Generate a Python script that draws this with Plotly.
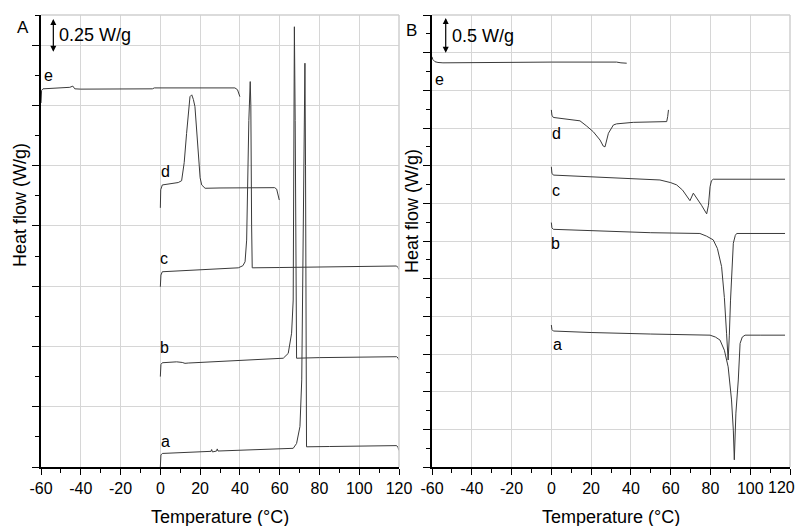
import plotly.graph_objects as go

# temperature ticks shared by both panels
temp_ticks = [-60, -40, -20, 0, 20, 40, 60, 80, 100, 120]
temp_text = [str(t) for t in temp_ticks]

# panel A (heating), curves offset vertically, arbitrary units (1.14 unit = 0.25 W/g)
a_e_T = [-60, -59.7, -59, -50, -45.5, -44, -43, -40, -20, -4, -3, 10, 30, 37.5, 38.8, 39.5, 40]
a_e_y = [12.08, 12.5, 12.55, 12.57, 12.6, 12.64, 12.55, 12.54, 12.54, 12.55, 12.58, 12.58, 12.59, 12.58, 12.52, 12.4, 12.29]

a_d_T = [0, 0.2, 1, 5, 9, 10.7, 12, 13.2, 14.2, 14.9, 15.8, 16.6, 17.4, 18.2, 19.1, 20, 20.8, 22.5, 30, 45, 57.5, 58.5, 59.3, 59.8]
a_d_y = [8.6, 9.2, 9.36, 9.4, 9.44, 9.5, 10.1, 11.07, 11.9, 12.29, 12.35, 12.2, 11.96, 11.2, 10.19, 9.6, 9.36, 9.25, 9.26, 9.27, 9.27, 9.22, 9.05, 8.86]

a_c_T = [0, 0.3, 1, 20, 39.2, 41.5, 42.6, 43.4, 43.7, 44.5, 45.2, 45.5, 45.9, 46.2, 60, 100, 118.8, 119.5, 120]
a_c_y = [5.98, 6.37, 6.48, 6.55, 6.61, 6.68, 6.81, 7.53, 8.86, 11.5, 12.79, 12.0, 8.0, 6.61, 6.62, 6.66, 6.67, 6.62, 6.55]

a_b_T = [0, 0.3, 1, 8.2, 11, 12.4, 14, 40, 61.8, 64.3, 66, 66.8, 67.1, 67.4, 67.8, 68.2, 68.5, 80, 118.8, 119.5, 120]
a_b_y = [3.0, 3.4, 3.46, 3.49, 3.47, 3.44, 3.45, 3.53, 3.61, 3.77, 4.44, 5.54, 8.86, 14.61, 11.5, 8.0, 3.61, 3.63, 3.66, 3.62, 3.55]

a_a_T = [0, 0.3, 1, 10, 20, 25.5, 25.8, 26.2, 28.3, 28.6, 29, 40, 55, 66.8, 68.5, 70.2, 71.1, 72, 72.7, 73.0, 73.2, 73.5, 85, 100, 118.8, 119.5, 120]
a_a_y = [0.0, 0.4, 0.45, 0.48, 0.5, 0.52, 0.58, 0.5, 0.53, 0.6, 0.53, 0.56, 0.59, 0.62, 0.78, 1.34, 2.89, 8.0, 13.4, 10.0, 5.0, 0.67, 0.68, 0.7, 0.71, 0.65, 0.55]

# panel B (cooling), ~0.96 unit = 0.5 W/g
b_e_T = [-60, -59.6, -58.5, -57, -54.5, -40, -20, 0, 20, 32.8, 35, 37.9]
b_e_y = [10.89, 10.82, 10.76, 10.74, 10.73, 10.74, 10.75, 10.75, 10.75, 10.75, 10.73, 10.72]

b_d_T = [0, 0.3, 1, 8, 14.4, 17.8, 21.1, 24.5, 26.1, 27, 28.7, 31.2, 32.8, 41.2, 50, 58, 58.5, 58.9]
b_d_y = [9.48, 9.34, 9.28, 9.23, 9.19, 9.05, 8.90, 8.68, 8.52, 8.50, 8.86, 9.08, 9.11, 9.15, 9.16, 9.17, 9.3, 9.48]

b_c_T = [0, 0.3, 1, 20, 40, 54.6, 60, 63, 66, 69.7, 71.4, 73, 75.5, 78.1, 79, 79.8, 80.5, 81.4, 90, 117.5]
b_c_y = [7.97, 7.8, 7.75, 7.7, 7.66, 7.62, 7.55, 7.49, 7.35, 7.07, 7.27, 7.15, 6.95, 6.72, 6.95, 7.44, 7.6, 7.64, 7.64, 7.64]

b_b_T = [0, 0.3, 1, 20, 50, 74.7, 78, 81.4, 83.5, 85.6, 87, 88.1, 88.9, 89.5, 90.1, 91.5, 92.5, 93.2, 100, 117.5]
b_b_y = [6.49, 6.35, 6.31, 6.27, 6.22, 6.20, 6.13, 6.03, 5.8, 5.32, 4.5, 3.55, 2.84, 3.5, 4.43, 5.94, 6.15, 6.20, 6.20, 6.20]

b_a_T = [0, 0.3, 1, 20, 50, 79.8, 82.5, 84.8, 87, 88.9, 90.6, 91.5, 92.0, 92.4, 92.8, 94, 94.9, 96, 97.4, 105, 117.5]
b_a_y = [3.77, 3.65, 3.61, 3.57, 3.53, 3.50, 3.45, 3.37, 3.1, 2.66, 1.78, 0.98, 0.19, 0.8, 1.43, 2.31, 3.28, 3.45, 3.50, 3.50, 3.50]

curve_names = ['a', 'b', 'c', 'd', 'e']
panel_a = {'a': (a_a_T, a_a_y), 'b': (a_b_T, a_b_y), 'c': (a_c_T, a_c_y),
           'd': (a_d_T, a_d_y), 'e': (a_e_T, a_e_y)}
panel_b = {'a': (b_a_T, b_a_y), 'b': (b_b_T, b_b_y), 'c': (b_c_T, b_c_y),
           'd': (b_d_T, b_d_y), 'e': (b_e_T, b_e_y)}

# label positions (T, y) for curve letters
labels_a = {'a': (2.7, 0.86), 'b': (2.0, 3.97), 'c': (2.0, 6.93), 'd': (2.7, 9.8), 'e': (-56.3, 12.98)}
labels_b = {'a': (3.0, 3.24), 'b': (2.2, 5.94), 'c': (2.2, 7.35), 'd': (2.7, 8.86), 'e': (-56.0, 10.29)}

FONT = "Liberation Sans, Arial, sans-serif"
LINE = '#3a3a3a'
OFF = 8                      # page body margin, the figure sits 8px in
W, H = 804 - OFF, 526 - OFF  # keep the figure inside the window
PLOT_TOP, PLOT_BOT = 15, 467  # wanted page pixels of the plot area
M_T = PLOT_TOP - OFF
M_B = H - (PLOT_BOT - OFF)


def paper_xy(px, py):
    """page pixel position -> paper coords (plot area = between margins)"""
    return (px - OFF) / W, (PLOT_BOT - py) / (PLOT_BOT - PLOT_TOP)


def dom(p0, p1):
    return [(p0 - OFF) / W, (p1 - OFF) / W]


fig = go.Figure()

for name in curve_names:
    T, y = panel_a[name]
    fig.add_trace(go.Scatter(x=T, y=y, mode='lines', line=dict(color=LINE, width=1),
                             xaxis='x', yaxis='y', showlegend=False))
    T, y = panel_b[name]
    fig.add_trace(go.Scatter(x=T, y=y, mode='lines', line=dict(color=LINE, width=1),
                             xaxis='x2', yaxis='y2', showlegend=False))

annotations = []
for name in curve_names:
    tx, ty = labels_a[name]
    annotations.append(dict(x=tx, y=ty, xref='x', yref='y', text=name, showarrow=False,
                            xanchor='center', yanchor='middle', font=dict(size=16, color='black')))
    tx, ty = labels_b[name]
    annotations.append(dict(x=tx, y=ty, xref='x2', yref='y2', text=name, showarrow=False,
                            xanchor='center', yanchor='middle', font=dict(size=16, color='black')))

# scale bars
annotations.append(dict(x=-53.8, y=14.87, ax=-53.8, ay=13.73, xref='x', yref='y', axref='x', ayref='y',
                        text='', showarrow=True, arrowhead=2, arrowside='end+start', arrowsize=1,
                        arrowwidth=1.2, arrowcolor='black', standoff=0, startstandoff=0))
annotations.append(dict(x=-52.0, y=14.33, xref='x', yref='y', text='0.25 W/g', showarrow=False,
                        xanchor='left', yanchor='middle', font=dict(size=18, color='black')))
annotations.append(dict(x=-53.1, y=11.92, ax=-53.1, ay=10.96, xref='x2', yref='y2', axref='x2', ayref='y2',
                        text='', showarrow=True, arrowhead=2, arrowside='end+start', arrowsize=1,
                        arrowwidth=1.2, arrowcolor='black', standoff=0, startstandoff=0))
annotations.append(dict(x=-51.2, y=11.45, xref='x2', yref='y2', text='0.5 W/g', showarrow=False,
                        xanchor='left', yanchor='middle', font=dict(size=18, color='black')))

# panel letters and axis titles
for txt, px, py in [('A', 22.5, 27.5), ('B', 411, 30.5)]:
    ax_, ay_ = paper_xy(px, py)
    annotations.append(dict(x=ax_, y=ay_, xref='paper', yref='paper', text=txt, showarrow=False,
                            xanchor='center', yanchor='middle', font=dict(size=17, color='black')))
for px, py in [(20, 205), (412, 211)]:
    ax_, ay_ = paper_xy(px, py)
    annotations.append(dict(x=ax_, y=ay_, xref='paper', yref='paper',
                            text='Heat flow (W/g)', textangle=-90, showarrow=False,
                            xanchor='center', yanchor='middle', font=dict(size=18, color='black')))
for px in [220, 611]:
    ax_, ay_ = paper_xy(px, 517)
    annotations.append(dict(x=ax_, y=ay_, xref='paper', yref='paper',
                            text='Temperature (°C)', showarrow=False,
                            xanchor='center', yanchor='middle', font=dict(size=18, color='black')))

# last tick label of panel B sits at the window edge: draw it as text, nudged in
temp_text_b = temp_text[:-1] + ['']
ax_, ay_ = paper_xy(797, 488)
annotations.append(dict(x=ax_, y=ay_, xref='paper', yref='paper', text=temp_text[-1], showarrow=False,
                        xanchor='right', yanchor='middle', font=dict(size=16, color='black')))

# light frame on top / right of each panel
shapes = []
for xr, yr in [('x', 'y'), ('x2', 'y2')]:
    shapes.append(dict(type='line', xref=xr + ' domain', yref=yr + ' domain', x0=0, x1=1, y0=1, y1=1,
                       line=dict(color='#cfcfcf', width=1.5)))
    shapes.append(dict(type='line', xref=xr + ' domain', yref=yr + ' domain', x0=1, x1=1, y0=0, y1=1,
                       line=dict(color='#cfcfcf', width=1.5)))

xaxis_style = dict(range=[-60, 120], tickvals=temp_ticks, ticks='outside', ticklen=6, tickwidth=1.2,
                   tickcolor='black', showline=True, linecolor='black', linewidth=1.5,
                   showgrid=True, gridcolor='#d6d6d6', gridwidth=1, zeroline=False, automargin=False,
                   tickfont=dict(size=16, color='black'),
                   minor=dict(dtick=10, ticks='outside', ticklen=4, tickcolor='black', showgrid=False))
yaxis_style = dict(showticklabels=False, ticks='outside', ticklen=7, tickwidth=1.2, tickcolor='black',
                   showline=True, linecolor='black', linewidth=1.5, showgrid=True, automargin=False,
                   gridcolor='#d6d6d6', gridwidth=1, zeroline=False)

fig.update_layout(
    width=W, height=H, autosize=False,
    margin=dict(l=0, r=0, t=M_T, b=M_B, pad=0, autoexpand=False),
    paper_bgcolor='white', plot_bgcolor='white',
    font=dict(family=FONT, color='black'),
    xaxis=dict(domain=dom(41, 399), anchor='y', ticktext=temp_text, **xaxis_style),
    xaxis2=dict(domain=dom(432, 790), anchor='y2', ticktext=temp_text_b, **xaxis_style),
    yaxis=dict(domain=[0, 1], anchor='x', range=[0, 15], tick0=0, dtick=2,
               minor=dict(dtick=1, ticks='outside', ticklen=4, tickcolor='black', showgrid=False),
               **yaxis_style),
    yaxis2=dict(domain=[0, 1], anchor='x2', range=[0, 12], tick0=0, dtick=1,
                minor=dict(dtick=0.5, ticks='outside', ticklen=4, tickcolor='black', showgrid=False),
                **yaxis_style),
    annotations=annotations,
    shapes=shapes,
)

fig.write_html("out.html")
